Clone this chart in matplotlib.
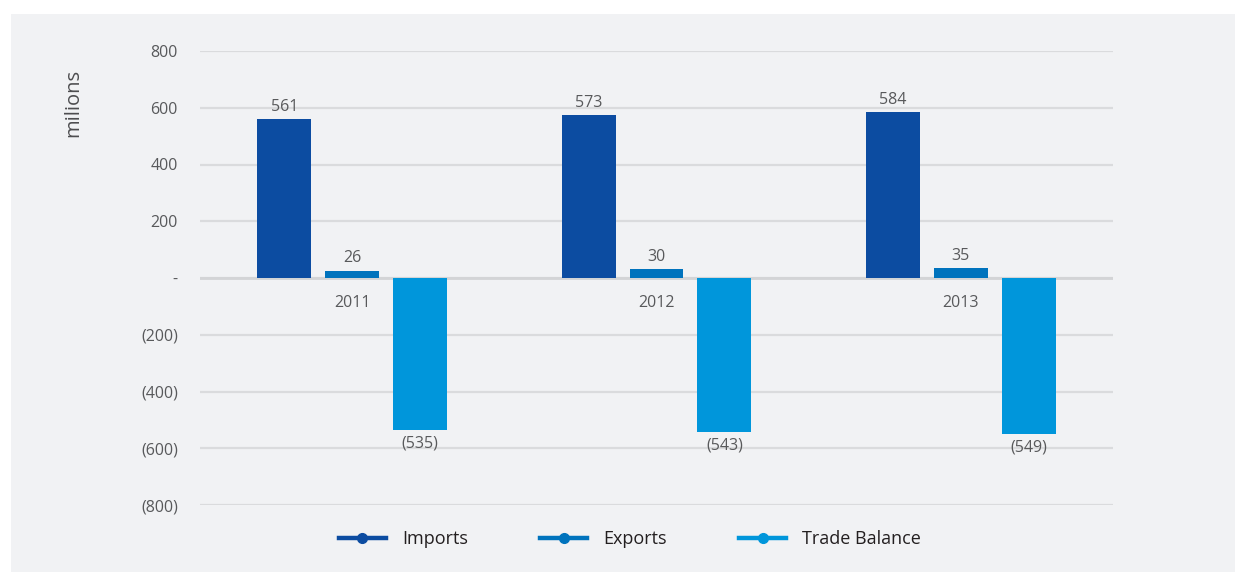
import matplotlib
matplotlib.use("Agg")
import matplotlib.pyplot as plt
from matplotlib.patches import Rectangle
from matplotlib.lines import Line2D
import numpy as np

plt.rcParams['font.family'] = ['Open Sans', 'DejaVu Sans']

# Trade figures (millions)
years = ["2011", "2012", "2013"]
imports = [561, 573, 584]
exports = [26, 30, 35]
trade_balance = [-535, -543, -549]

series_names = ["Imports", "Exports", "Trade Balance"]
series_colors = ["#0c4ca1", "#0073bd", "#0096db"]

yticks = [800, 600, 400, 200, 0, -200, -400, -600, -800]


def fmt(v):
    if v == 0:
        return "-"
    if v < 0:
        return f"({abs(v):,.0f})"
    return f"{v:,.0f}"


fig = plt.figure(figsize=(12.35, 5.72), dpi=100)
fig.patch.set_facecolor("white")

# light grey panel behind the chart
fig.patches.append(Rectangle((11 / 1235, 0), 1 - 11 / 1235, (572 - 14) / 572,
                             transform=fig.transFigure, facecolor="#f1f2f4",
                             edgecolor="none", zorder=-10))

ax = fig.add_axes([200 / 1235, 1 - 505 / 572, 913 / 1235, (505 - 51) / 572])
ax.set_facecolor("none")
ax.set_zorder(1)

x = np.arange(len(years))
width = 0.177
step = 0.223
all_series = [imports, exports, trade_balance]
text_col = "#58595b"

for k, (vals, col) in enumerate(zip(all_series, series_colors)):
    pos = x + (k - 1) * step
    ax.bar(pos, vals, width=width, color=col, zorder=3)
    for p, v in zip(pos, vals):
        if v >= 0:
            ax.annotate(fmt(v), (p, v), xytext=(0, 3), textcoords="offset points",
                        ha="center", va="bottom", fontsize=11.5, color=text_col)
        else:
            ax.annotate(fmt(v), (p, v), xytext=(0, -4), textcoords="offset points",
                        ha="center", va="top", fontsize=11.5, color=text_col)

ax.set_xlim(-0.5, len(years) - 0.5)
ax.set_ylim(-800, 800)
ax.set_yticks(yticks)
ax.set_yticklabels([fmt(v) for v in yticks], fontsize=11.5, color=text_col)
ax.tick_params(axis="y", length=0, pad=16)
ax.set_xticks([])
for s in ax.spines.values():
    s.set_visible(False)
ax.grid(axis="y", color="#dadbdd", linewidth=1.6, zorder=1)
ax.axhline(0, color="#d3d4d6", linewidth=2, zorder=2)

# year labels sit just under the zero line
for xi, yr in zip(x, years):
    ax.annotate(yr, (xi, 0), xytext=(0, -12.5), textcoords="offset points",
                ha="center", va="top", fontsize=11.5, color=text_col)

fig.text(73 / 1235, 1 - 103 / 572, "milions", rotation=90, ha="center", va="center",
         fontsize=14.5, color="#4d4d4f")

handles = [Line2D([], [], color=c, linewidth=3.2, marker="o", markersize=7,
                  markerfacecolor=c, markeredgecolor=c) for c in series_colors]
leg = fig.legend(handles, series_names, loc="center",
                 bbox_to_anchor=(630 / 1235, 1 - 539 / 572), ncol=3, frameon=False,
                 fontsize=13, handlelength=2.6, handletextpad=0.9, columnspacing=4.0)
for t in leg.get_texts():
    t.set_color("#231f20")

fig.savefig("out.png", dpi=100, facecolor=fig.get_facecolor())
